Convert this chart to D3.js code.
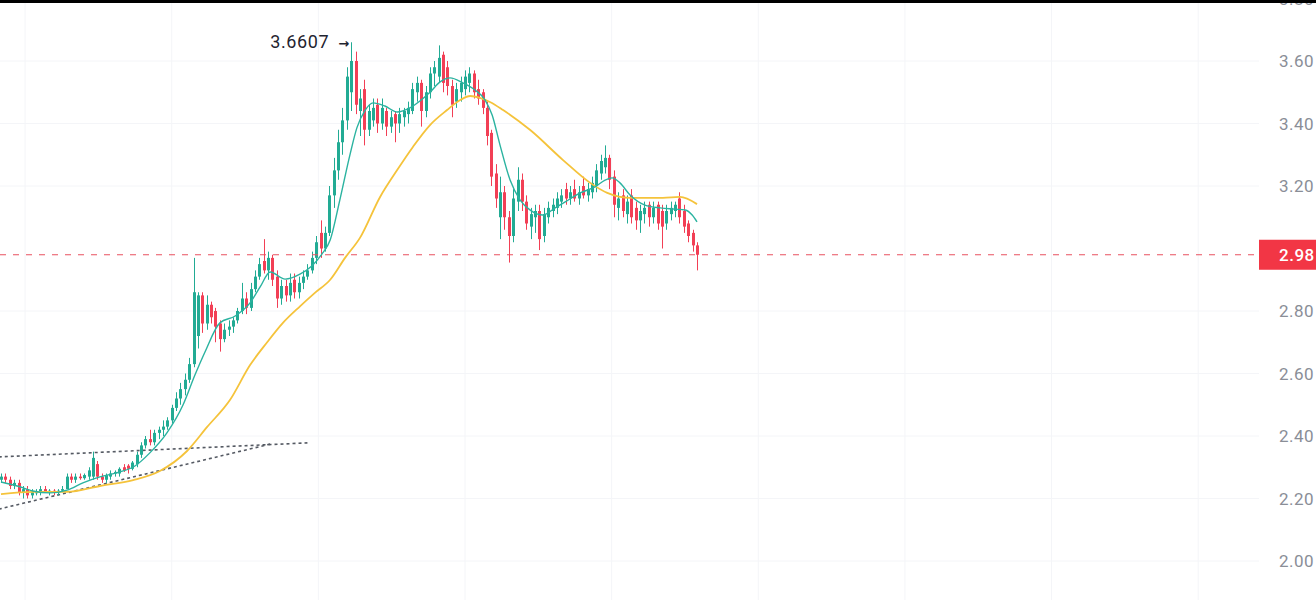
<!DOCTYPE html>
<html><head><meta charset="utf-8">
<script src="https://cdn.jsdelivr.net/npm/d3@7"></script>
<style>html,body{margin:0;padding:0;background:#fff;overflow:hidden}svg{display:block}</style>
</head><body>
<svg id="c" width="1316" height="600"></svg>
<script>
// ---- data ----
const opens = [2.26,2.27,2.26,2.24,2.25,2.22,2.23,2.21,2.22,2.22,2.23,2.22,2.225,2.22,2.225,
 2.23,2.27,2.26,2.27,2.265,2.27,2.27,2.31,2.27,2.26,2.27,2.28,2.28,2.30,2.305,2.295,
 2.31,2.34,2.37,2.39,2.38,2.41,2.42,2.43,2.45,2.49,2.52,2.55,2.58,2.63,2.72,2.85,2.76,2.82,2.80,2.76,
 2.71,2.74,2.75,2.77,2.80,2.84,2.81,2.87,2.91,2.96,2.93,2.97,2.91,2.84,2.88,2.85,2.90,2.86,2.89,2.91,
 2.93,2.97,3.05,3.00,3.05,3.17,3.25,3.34,3.41,3.50,3.60,3.44,3.51,3.38,3.41,3.46,3.40,3.44,3.39,3.43,
 3.40,3.42,3.43,3.44,3.50,3.53,3.44,3.50,3.56,3.55,3.62,3.58,3.52,3.47,3.50,3.51,3.53,3.56,3.51,3.50,
 3.45,3.37,3.24,3.10,3.18,3.10,3.04,3.15,3.22,3.15,3.07,3.10,3.12,3.04,3.10,3.12,3.13,3.15,3.19,3.16,
 3.19,3.16,3.20,3.17,3.18,3.20,3.24,3.26,3.29,3.23,3.13,3.17,3.11,3.17,3.13,3.09,3.11,3.14,3.10,3.14,
 3.12,3.08,3.11,3.12,3.16,3.12,3.08,3.05,3.01];
const highs = [2.28,2.28,2.27,2.26,2.26,2.24,2.24,2.23,2.23,2.24,2.24,2.23,2.23,2.23,2.24,
 2.28,2.28,2.28,2.28,2.28,2.30,2.35,2.32,2.28,2.28,2.29,2.29,2.30,2.31,2.31,2.32,
 2.35,2.38,2.40,2.42,2.42,2.43,2.45,2.46,2.50,2.54,2.57,2.60,2.65,2.97,2.86,2.86,2.85,2.83,2.81,2.77,
 2.76,2.77,2.78,2.81,2.89,2.86,2.89,2.93,2.97,3.03,2.99,2.98,2.93,2.90,2.90,2.92,2.92,2.91,2.93,2.95,
 2.99,3.04,3.09,3.07,3.20,3.29,3.38,3.45,3.58,3.66,3.63,3.51,3.54,3.46,3.48,3.48,3.48,3.45,3.44,3.44,
 3.45,3.45,3.47,3.53,3.55,3.54,3.52,3.58,3.60,3.65,3.63,3.60,3.54,3.53,3.55,3.57,3.58,3.57,3.54,3.51,
 3.47,3.38,3.27,3.23,3.20,3.12,3.19,3.26,3.24,3.17,3.13,3.14,3.14,3.13,3.15,3.16,3.18,3.19,3.21,3.20,
 3.22,3.20,3.23,3.21,3.23,3.27,3.30,3.33,3.30,3.25,3.18,3.19,3.17,3.19,3.15,3.14,3.15,3.15,3.15,3.15,
 3.14,3.14,3.15,3.15,3.18,3.14,3.09,3.06,3.02];
const lows = [2.25,2.25,2.23,2.23,2.21,2.20,2.20,2.20,2.21,2.21,2.22,2.21,2.21,2.21,2.22,
 2.23,2.25,2.25,2.26,2.26,2.26,2.26,2.26,2.25,2.25,2.26,2.27,2.27,2.285,2.28,2.29,
 2.30,2.33,2.36,2.37,2.37,2.39,2.40,2.42,2.44,2.48,2.50,2.53,2.57,2.62,2.68,2.73,2.74,2.76,2.70,2.67,
 2.70,2.72,2.73,2.76,2.79,2.79,2.80,2.86,2.90,2.92,2.90,2.88,2.81,2.82,2.83,2.83,2.84,2.84,2.87,2.90,
 2.92,2.95,2.97,2.99,3.04,3.13,3.22,3.30,3.38,3.44,3.43,3.36,3.33,3.36,3.39,3.37,3.38,3.36,3.37,3.34,
 3.37,3.39,3.40,3.43,3.47,3.39,3.42,3.48,3.52,3.53,3.50,3.49,3.42,3.45,3.47,3.49,3.50,3.48,3.46,3.43,
 3.33,3.20,3.13,3.03,3.06,2.955,3.02,3.12,3.12,3.06,3.03,3.05,2.995,3.02,3.08,3.10,3.11,3.13,3.14,3.14,
 3.15,3.14,3.16,3.15,3.16,3.18,3.22,3.24,3.19,3.10,3.09,3.10,3.08,3.08,3.06,3.05,3.08,3.07,3.08,3.06,
 3.00,3.06,3.09,3.10,3.08,3.05,3.02,2.99,2.93];
const closes = [2.27,2.26,2.24,2.25,2.22,2.23,2.21,2.22,2.22,2.23,2.22,2.225,2.22,2.225,2.23,
 2.27,2.26,2.27,2.265,2.275,2.29,2.33,2.27,2.26,2.275,2.28,2.285,2.295,2.29,2.295,2.315,
 2.34,2.37,2.39,2.38,2.41,2.42,2.43,2.45,2.49,2.52,2.55,2.58,2.63,2.86,2.85,2.76,2.82,2.78,2.75,2.71,
 2.74,2.75,2.77,2.80,2.84,2.81,2.87,2.91,2.95,2.93,2.97,2.90,2.84,2.88,2.85,2.89,2.86,2.89,2.91,2.93,
 2.97,3.02,3.00,3.05,3.17,3.25,3.34,3.41,3.55,3.60,3.46,3.48,3.38,3.44,3.45,3.40,3.45,3.39,3.42,3.40,
 3.43,3.44,3.45,3.51,3.53,3.44,3.50,3.56,3.58,3.61,3.53,3.52,3.46,3.51,3.53,3.55,3.56,3.50,3.48,3.45,
 3.36,3.23,3.16,3.18,3.10,3.04,3.16,3.22,3.15,3.08,3.11,3.12,3.03,3.11,3.13,3.14,3.16,3.17,3.16,3.18,
 3.16,3.18,3.17,3.19,3.21,3.25,3.28,3.29,3.22,3.14,3.16,3.12,3.15,3.10,3.09,3.12,3.13,3.10,3.13,3.08,
 3.07,3.12,3.13,3.14,3.10,3.07,3.04,3.01,2.98];

const fastIdx = [0,3.7,7.3,11.2,15.1,18.7,22.6,27.2,30.6,34,37.9,41.6,44.3,46.6,50,53.5,56.9,59.2,61.5,64.9,68.3,71,73.3,75.2,77.4,79.7,81.3,83.2,85,87.7,90.5,93.4,95.7,98,100.3,102.6,105.5,108.3,110.6,112.2,114,116.3,118.6,120.9,123.8,126.6,128.9,132.3,135.7,138,139.6,141.4,143.7,147.1,150.6,154,156.3,157.9,159];
const fastVal = [2.253,2.24,2.224,2.218,2.227,2.25,2.269,2.285,2.304,2.346,2.41,2.50,2.595,2.669,2.762,2.784,2.826,2.877,2.925,2.902,2.918,2.944,2.982,3.027,3.155,3.299,3.386,3.443,3.466,3.456,3.437,3.45,3.472,3.50,3.533,3.546,3.53,3.507,3.475,3.427,3.331,3.219,3.155,3.123,3.107,3.13,3.149,3.178,3.197,3.219,3.226,3.21,3.171,3.139,3.13,3.126,3.123,3.107,3.085];
const slowIdx = [0,7.3,15.1,22.6,30.2,36.3,42.5,47.1,52.3,56.9,60.8,64.4,68.3,71.7,75.2,78.6,82,86.6,90.5,94.1,98,101.9,104.9,107.2,109.4,111.7,114.7,120.9,128.4,134.6,138.5,143.7,151.2,155.1,159];
const slowVal = [2.214,2.221,2.221,2.24,2.259,2.288,2.352,2.429,2.515,2.627,2.70,2.762,2.815,2.858,2.90,2.97,3.034,3.165,3.251,3.325,3.395,3.443,3.475,3.488,3.482,3.469,3.443,3.379,3.283,3.21,3.178,3.162,3.162,3.165,3.142];

const yTicks = [2.00,2.20,2.40,2.60,2.80,3.20,3.40,3.60,3.80];
const lastPrice = 2.98;
const highLabel = "3.6607";
const highIdx = 80, highVal = 3.6607;
const trendUpper = [[-0.5,2.333],[70,2.378]];
const trendLower = [[-0.5,2.166],[61.5,2.374]];
const vGridIdx = [5.5,39,72.5,106,139.5,173,206.5,240,273.5];

// ---- drawing ----
const W = 1316, H = 600, plotRight = 1259;
const svg = d3.select("#c");
const x = d3.scaleLinear().domain([0, 159]).range([1, 697]);
const y = d3.scaleLinear().domain([2.0, 3.6]).range([561, 61]);
const UP = "#22ab94", DOWN = "#f23f55";

// grid
svg.append("g").selectAll("line").data(yTicks).join("line")
  .attr("x1", 0).attr("x2", plotRight).attr("y1", d => y(d)).attr("y2", d => y(d))
  .attr("stroke", "#f4f5f8").attr("stroke-width", 1);
svg.append("g").selectAll("line").data(vGridIdx).join("line")
  .attr("x1", d => x(d)).attr("x2", d => x(d)).attr("y1", 0).attr("y2", H)
  .attr("stroke", "#f4f5f8").attr("stroke-width", 1);

// trendlines
const tl = d3.line().x(d => x(d[0])).y(d => y(d[1]));
[trendUpper, trendLower].forEach(t => svg.append("path").attr("d", tl(t))
  .attr("fill", "none").attr("stroke", "#555a63").attr("stroke-width", 1.6)
  .attr("stroke-dasharray", "3,3"));

// candles
const idx = d3.range(closes.length);
const cg = svg.append("g");
cg.selectAll("line").data(idx).join("line")
  .attr("x1", i => Math.round(x(i)) + 0.5).attr("x2", i => Math.round(x(i)) + 0.5)
  .attr("y1", i => y(highs[i])).attr("y2", i => y(lows[i]))
  .attr("stroke", i => closes[i] >= opens[i] ? UP : DOWN).attr("stroke-width", 1);
cg.selectAll("rect").data(idx).join("rect")
  .attr("x", i => Math.round(x(i)) - 1).attr("width", 3)
  .attr("y", i => y(Math.max(opens[i], closes[i])))
  .attr("height", i => Math.max(1, Math.abs(y(opens[i]) - y(closes[i]))))
  .attr("fill", i => closes[i] >= opens[i] ? UP : DOWN);

// moving averages
const ml = d3.line().curve(d3.curveMonotoneX);
svg.append("path").attr("d", ml(slowIdx.map((d, k) => [x(d), y(slowVal[k])])))
  .attr("fill", "none").attr("stroke", "#f5c33b").attr("stroke-width", 1.8);
svg.append("path").attr("d", ml(fastIdx.map((d, k) => [x(d), y(fastVal[k])])))
  .attr("fill", "none").attr("stroke", "#2bb3a0").attr("stroke-width", 1.4);

// last price line
svg.append("line").attr("x1", 0).attr("x2", plotRight).attr("y1", y(lastPrice)).attr("y2", y(lastPrice))
  .attr("stroke", "#e8505f").attr("stroke-width", 1).attr("stroke-dasharray", "6,7");

// high annotation
svg.append("text").attr("x", x(highIdx) - 22).attr("y", y(highVal) + 6)
  .attr("text-anchor", "end").attr("font-family", "Roboto, sans-serif").attr("font-size", 18)
  .attr("letter-spacing", 0.6).attr("fill", "#1f2430").text(highLabel);
svg.append("text").attr("x", x(highIdx) - 2).attr("y", y(highVal) + 6)
  .attr("text-anchor", "end").attr("font-family", "DejaVu Sans, sans-serif").attr("font-size", 13)
  .attr("font-weight", "bold").attr("fill", "#1f2430").text("\u2192");

// right axis
svg.append("g").selectAll("text").data(yTicks).join("text")
  .attr("x", 1279).attr("y", d => y(d) + 6)
  .attr("font-family", "Roboto, sans-serif").attr("font-size", 17).attr("letter-spacing", 0.5)
  .attr("fill", "#8a8e97").text(d => d.toFixed(2));

// last price label
svg.append("rect").attr("x", plotRight).attr("y", y(lastPrice) - 15)
  .attr("width", W - plotRight).attr("height", 30).attr("fill", "#f23645");
svg.append("text").attr("x", 1279).attr("y", y(lastPrice) + 6)
  .attr("font-family", "Roboto, sans-serif").attr("font-size", 17).attr("font-weight", 500)
  .attr("letter-spacing", 0.5).attr("fill", "#ffffff").text(lastPrice.toFixed(2));

// top black strip
svg.append("rect").attr("x", 0).attr("y", 0).attr("width", W).attr("height", 3).attr("fill", "#000");
</script>
</body></html>
